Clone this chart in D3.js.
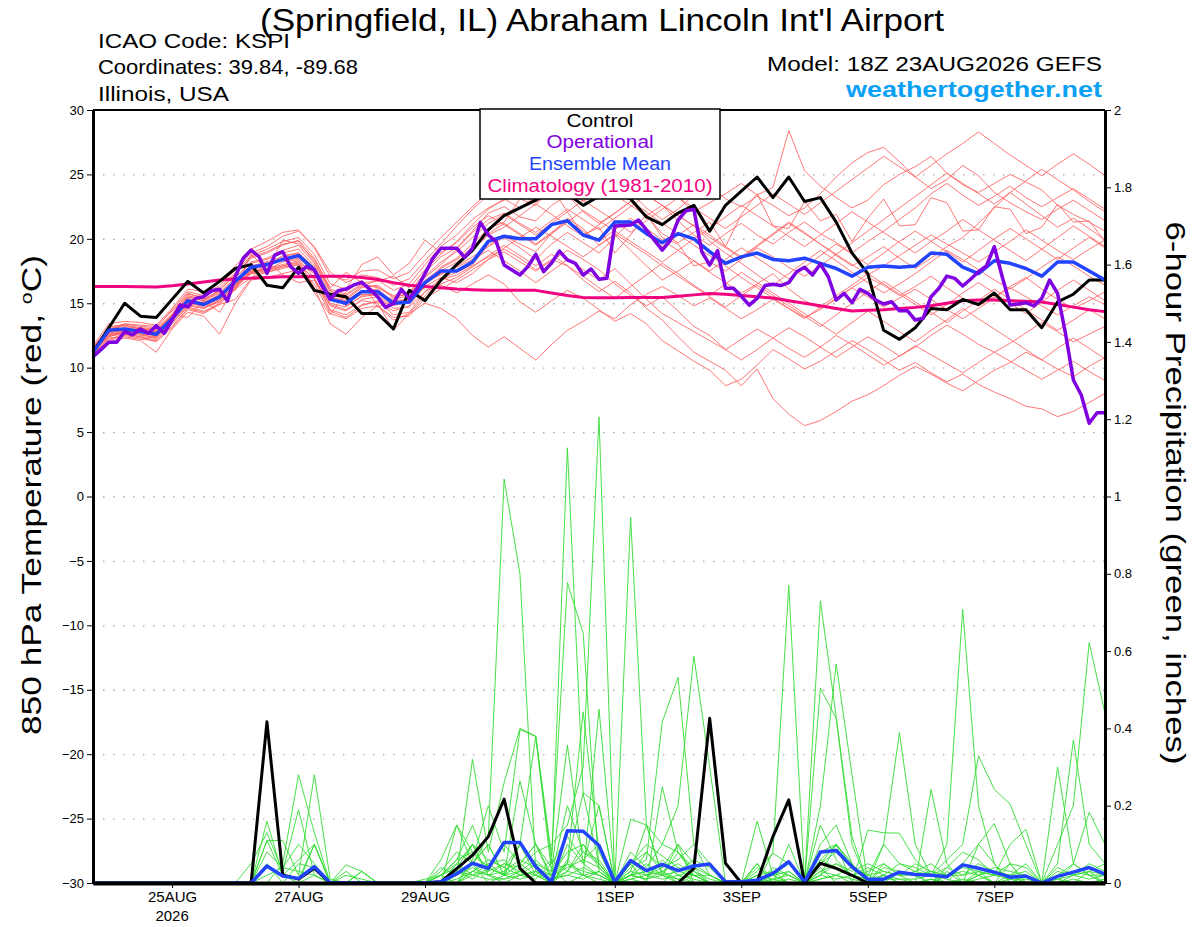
<!DOCTYPE html>
<html>
<head>
<meta charset="utf-8">
<script src="https://cdn.jsdelivr.net/npm/d3@7"></script>
<style>
  body { margin: 0; background: #fff; }
  svg { display: block; font-family: "Liberation Sans", Arial, sans-serif; }
</style>
</head>
<body>
<svg id="drawing_region"></svg>
<script>
// forecast hours from the 18Z 23AUG2026 run
const stepHours = 6;
const opStepHours = 3;
const tickHours = [30, 78, 126, 198, 246, 294, 342];
const tickLabels = ["25AUG", "27AUG", "29AUG", "1SEP", "3SEP", "5SEP", "7SEP"];
const tempTicks = [30, 25, 20, 15, 10, 5, 0, -5, -10, -15, -20, -25, -30];
const gridTemps = [25, 20, 15, 10, 5, 0, -5, -10, -15, -20, -25];
const precipTicks = [0, 0.2, 0.4, 0.6, 0.8, 1, 1.2, 1.4, 1.6, 1.8, 2];
const precipTickLabels = ["0", "0.2", "0.4", "0.6", "0.8", "1", "1.2", "1.4", "1.6", "1.8", "2"];

// 850 hPa temperature, 6-hourly
const tempControl = [11.2, 13.1, 15.0, 14.0, 13.9, 15.3, 16.7, 15.8, 16.7, 17.7, 18.0, 16.4, 16.2,
  17.8, 16.0, 15.7, 15.5, 14.2, 14.2, 13.0, 16.0, 15.2, 16.8, 18.0, 19.1, 20.7,
  21.8, 22.4, 23.0, 23.8, 23.5, 22.6, 23.3, 23.6, 23.1, 21.7, 21.1, 22.0, 22.6,
  20.6, 22.6, 23.7, 24.8, 23.2, 24.8, 22.9, 23.2, 21.3, 18.9, 17.3, 12.9, 12.2,
  13.1, 14.6, 14.5, 15.3, 14.9, 15.8, 14.5, 14.5, 13.1, 15.1, 15.7, 16.8, 16.8];
const tempMean = [11.2, 12.9, 13.0, 12.8, 12.6, 13.8, 15.2, 14.9, 15.5, 16.7, 17.8, 18.0, 18.4,
  18.7, 17.6, 15.3, 15.0, 15.9, 15.9, 15.0, 15.1, 16.6, 17.5, 17.5, 18.2, 19.8,
  20.2, 20.0, 20.0, 21.1, 21.4, 20.3, 19.9, 21.3, 21.3, 20.4, 19.7, 20.4, 20.0,
  19.0, 18.1, 18.6, 18.9, 18.4, 18.3, 18.5, 18.1, 17.7, 17.1, 17.8, 17.9, 17.8,
  17.9, 18.9, 18.8, 17.8, 17.3, 18.3, 18.1, 17.7, 17.1, 18.2, 18.2, 17.5, 16.8];
const tempClimo = [16.3, 16.3, 16.3, 16.28, 16.26, 16.35, 16.5, 16.65, 16.8, 16.88, 16.95, 17.0, 17.05,
  17.06, 17.08, 17.1, 17.1, 17.0, 16.85, 16.6, 16.4, 16.3, 16.2, 16.1, 16.05, 16.0,
  16.0, 16.0, 16.0, 15.8, 15.6, 15.45, 15.43, 15.43, 15.44, 15.45, 15.45, 15.55, 15.65,
  15.75, 15.7, 15.6, 15.5, 15.4, 15.2, 15.0, 14.8, 14.6, 14.4, 14.45, 14.5, 14.6,
  14.68, 14.8, 15.0, 15.2, 15.25, 15.25, 15.2, 15.15, 15.1, 14.9, 14.7, 14.5, 14.35];
// operational run, 3-hourly
const tempOper = [10.85, 11.4, 11.97, 11.97, 12.8, 12.54, 13.0, 12.67, 13.26, 12.67, 13.7, 14.86, 14.73,
  15.38, 15.51, 15.97, 16.08, 15.17, 17.06, 18.49, 19.13, 18.61, 17.32, 18.74, 19.0, 17.84,
  17.32, 17.84, 17.58, 16.29, 15.33, 15.97, 16.1, 16.42, 16.62, 16.1, 15.51, 14.68, 14.99,
  16.08, 15.38, 16.16, 17.32, 18.49, 19.27, 19.27, 19.27, 18.56, 19.27, 21.28, 20.3, 19.78,
  17.97, 17.58, 17.19, 17.84, 18.8, 17.45, 18.12, 19.05, 18.36, 18.1, 17.19, 17.66, 16.86,
  16.94, 21.0, 21.04, 21.07, 21.46, 20.69, 19.9, 19.13, 19.86, 21.46, 22.18, 22.29, 19.0,
  17.97, 19.08, 16.16, 16.16, 15.54, 14.86, 15.38, 16.37, 16.47, 16.37, 16.6, 17.45, 17.79,
  17.19, 18.05, 17.06, 15.25, 15.77, 15.04, 16.08, 15.77, 15.25, 14.94, 15.12, 14.42, 14.42,
  13.7, 13.83, 15.51, 16.16, 17.11, 16.93, 16.34, 16.86, 17.45, 17.89, 19.39, 17.06, 14.86,
  14.94, 15.04, 14.79, 15.38, 16.8, 15.77, 12.67, 9.04, 7.88, 5.68, 6.5, 6.5];

// ensemble members, temperature
const tm01 = [11.5, 12.4, 12.8, 13.1, 13.0, 14.2, 15.8, 15.3, 16.0, 17.2, 18.6, 19.0, 19.6,
  19.8, 18.2, 16.0, 15.4, 16.3, 16.8, 16.0, 16.5, 18.0, 19.4, 20.3, 21.5, 22.4,
  23.0, 23.6, 24.2, 24.8, 24.0, 23.5, 24.6, 25.3, 24.8, 23.9, 24.5, 23.2, 22.1,
  22.8, 23.5, 24.3, 23.4, 24.0, 28.4, 25.3, 24.1, 23.2, 22.4, 23.0, 24.2, 25.0,
  25.6, 26.4, 25.1, 24.2, 23.6, 24.3, 25.0, 24.4, 23.8, 22.6, 21.9, 21.3, 20.6];
const tm02 = [11.0, 12.1, 12.5, 12.3, 12.2, 13.4, 14.8, 14.6, 15.1, 16.2, 17.4, 17.7, 18.0,
  18.3, 16.2, 13.4, 12.6, 13.9, 14.8, 13.7, 14.2, 15.6, 16.8, 17.2, 17.9, 18.6,
  19.2, 18.5, 17.6, 18.4, 17.9, 16.8, 15.9, 16.7, 15.8, 14.6, 13.7, 12.4, 11.2,
  10.5, 9.8, 8.6, 9.9, 7.6, 6.4, 5.5, 5.9, 6.6, 7.4, 7.9, 8.6, 9.4,
  10.1, 9.5, 8.8, 8.2, 9.0, 9.8, 10.4, 11.2, 10.6, 9.9, 9.3, 10.1, 10.8];
const tm03 = [11.3, 12.6, 12.7, 12.9, 12.4, 13.6, 15.0, 15.1, 15.6, 16.5, 17.3, 17.9, 18.7,
  18.9, 17.8, 15.6, 14.8, 15.5, 15.7, 15.3, 15.6, 16.2, 16.4, 15.8, 16.5, 17.2,
  16.5, 15.1, 14.3, 15.2, 16.0, 15.4, 14.5, 13.6, 14.2, 13.4, 12.1, 11.3, 10.5,
  9.8, 8.6, 9.1, 10.2, 11.4, 10.7, 9.9, 10.5, 11.3, 12.1, 11.4, 10.6, 9.8,
  10.4, 9.6, 8.9, 9.5, 8.7, 8.1, 7.6, 7.0, 6.8, 6.2, 6.6, 7.3, 8.0];
const tm04 = [11.6, 12.9, 13.4, 13.2, 13.1, 14.5, 15.9, 15.6, 16.4, 17.6, 18.9, 19.4, 20.2,
  20.6, 19.4, 17.4, 16.6, 17.2, 17.0, 16.4, 16.9, 18.3, 19.6, 21.0, 22.3, 23.4,
  24.1, 24.6, 25.3, 24.7, 23.8, 22.9, 23.7, 24.3, 23.6, 22.4, 21.5, 22.3, 23.4,
  24.2, 23.1, 22.5, 23.3, 22.6, 21.8, 22.4, 23.5, 24.8, 25.9, 26.7, 27.1, 26.0,
  24.8, 23.9, 24.6, 25.7, 24.9, 23.6, 22.8, 22.1, 21.5, 22.3, 23.0, 22.2, 21.4];
const tm05 = [10.9, 12.2, 12.6, 12.4, 12.0, 13.1, 14.5, 14.2, 14.9, 15.3, 16.9, 18.3, 17.2,
  16.6, 16.8, 14.4, 13.9, 14.8, 15.2, 14.1, 14.3, 15.9, 16.9, 17.4, 18.0, 19.5,
  20.2, 19.6, 19.0, 20.4, 21.6, 20.8, 19.5, 20.3, 19.1, 17.9, 16.8, 17.5, 18.3,
  17.4, 16.6, 15.8, 16.5, 17.3, 16.1, 15.2, 14.6, 15.3, 16.2, 17.0, 16.4, 15.6,
  16.3, 17.1, 16.2, 15.4, 14.8, 15.5, 16.3, 17.0, 16.1, 15.3, 14.6, 15.2, 15.9];
const tm06 = [11.4, 13.2, 13.3, 13.0, 12.9, 14.0, 15.4, 15.0, 15.7, 17.0, 18.2, 18.5, 19.1,
  19.5, 18.1, 15.9, 15.6, 16.4, 16.3, 15.4, 15.8, 17.4, 18.6, 19.3, 20.6, 22.0,
  22.5, 21.7, 21.4, 22.6, 23.4, 22.1, 21.2, 22.0, 22.9, 21.8, 20.4, 19.7, 20.5,
  21.3, 19.4, 21.9, 23.5, 21.0, 20.8, 22.9, 21.4, 21.9, 19.8, 21.6, 23.1, 21.0,
  21.1, 23.2, 22.8, 20.6, 20.7, 22.5, 22.3, 20.4, 20.9, 22.7, 21.3, 21.4, 19.8];
const tm07 = [11.1, 12.5, 12.9, 12.6, 12.3, 13.5, 14.7, 14.4, 14.9, 16.1, 17.0, 17.4, 17.8,
  18.0, 16.9, 14.9, 14.5, 15.2, 15.0, 12.9, 14.2, 15.0, 14.6, 13.8, 12.5, 11.6,
  12.4, 11.5, 10.6, 11.8, 12.9, 13.6, 14.4, 13.8, 14.9, 15.7, 16.3, 15.6, 14.8,
  15.4, 14.6, 13.8, 14.5, 15.3, 14.6, 13.9, 14.5, 15.4, 16.2, 15.5, 14.7, 15.4,
  16.1, 15.3, 14.5, 13.8, 14.6, 15.4, 16.2, 15.5, 14.8, 14.1, 14.8, 15.5, 14.9];
const tm08 = [11.7, 13.4, 13.6, 13.5, 13.3, 14.6, 16.1, 15.9, 16.6, 17.9, 19.2, 19.8, 20.5,
  20.7, 19.3, 17.1, 16.8, 17.5, 17.6, 16.9, 17.4, 18.8, 20.1, 21.3, 22.5, 23.6,
  24.3, 23.5, 22.8, 23.6, 24.5, 25.1, 24.2, 23.4, 22.6, 21.8, 22.6, 21.4, 20.3,
  19.5, 20.4, 21.2, 20.3, 19.6, 20.5, 21.3, 20.4, 19.7, 18.9, 19.8, 20.6, 21.5,
  22.4, 23.5, 24.3, 23.4, 22.6, 23.3, 24.1, 23.2, 22.5, 23.2, 23.9, 23.1, 22.3];
const tm09 = [11.2, 12.8, 13.1, 12.9, 12.7, 13.9, 15.3, 14.9, 15.4, 16.6, 17.6, 18.1, 18.3,
  18.5, 17.4, 15.0, 14.7, 15.6, 15.8, 14.9, 15.0, 16.3, 17.0, 16.6, 17.3, 18.4,
  19.0, 18.2, 17.5, 18.3, 19.1, 18.4, 17.6, 16.5, 15.6, 14.8, 15.5, 14.4, 13.2,
  12.5, 11.4, 10.6, 11.4, 12.3, 13.1, 12.4, 11.6, 10.8, 11.6, 12.4, 11.7, 10.9,
  11.6, 12.5, 13.3, 12.6, 11.8, 11.2, 11.9, 12.7, 13.5, 12.8, 12.0, 12.6, 13.2];
const tm10 = [11.0, 12.3, 12.4, 12.2, 12.1, 13.2, 14.6, 14.3, 15.0, 16.3, 17.5, 17.6, 18.2,
  18.4, 17.0, 14.5, 14.1, 14.9, 15.1, 14.4, 14.8, 16.4, 17.8, 18.5, 19.6, 20.8,
  21.3, 23.1, 22.6, 24.0, 22.1, 20.3, 20.9, 18.9, 20.3, 21.9, 20.1, 19.6, 17.9,
  18.2, 17.5, 18.4, 19.3, 18.6, 17.8, 17.1, 17.9, 18.8, 18.0, 17.2, 17.9, 18.7,
  19.5, 20.3, 19.6, 18.9, 18.2, 19.0, 19.8, 20.7, 19.9, 19.1, 18.4, 19.2, 19.9];
const tm11 = [11.4, 13.0, 13.3, 13.1, 12.8, 14.1, 15.5, 15.2, 15.9, 16.0, 18.8, 17.6, 19.9,
  19.6, 18.4, 16.1, 15.7, 16.5, 16.2, 15.6, 15.9, 17.0, 18.0, 19.2, 20.5, 21.5,
  22.0, 21.2, 20.5, 21.4, 22.3, 21.5, 20.7, 21.6, 22.5, 23.4, 22.6, 21.8, 21.0,
  19.8, 18.9, 18.1, 17.2, 16.4, 17.3, 18.2, 19.1, 18.3, 17.4, 16.6, 15.8, 16.5,
  17.3, 18.2, 19.1, 18.4, 17.6, 16.8, 16.1, 16.9, 17.8, 18.6, 17.9, 17.1, 16.4];
const tm12 = [11.3, 12.7, 12.9, 12.7, 12.5, 13.7, 15.1, 14.7, 15.2, 16.4, 17.5, 17.6, 17.9,
  18.1, 15.8, 14.1, 15.9, 16.8, 14.7, 15.2, 15.3, 16.7, 17.2, 17.9, 18.6, 19.4,
  20.1, 19.3, 18.4, 19.6, 20.5, 19.7, 18.9, 20.1, 21.4, 20.5, 19.4, 20.3, 21.1,
  20.3, 19.4, 18.6, 19.5, 20.4, 21.3, 20.5, 19.6, 18.7, 17.9, 18.6, 19.4, 18.5,
  17.7, 18.5, 19.4, 20.1, 21.2, 22.4, 23.6, 22.7, 21.8, 20.9, 21.6, 20.8, 19.9];
const tm13 = [11.5, 12.6, 12.8, 12.6, 12.5, 13.8, 15.0, 14.8, 15.3, 16.4, 17.4, 17.5, 17.9,
  18.2, 17.3, 15.4, 15.1, 15.7, 15.6, 14.8, 15.2, 16.5, 17.3, 17.8, 18.4, 19.1,
  18.3, 17.5, 16.6, 17.5, 18.4, 17.6, 16.8, 17.7, 16.5, 15.3, 14.2, 13.5, 12.8,
  12.1, 11.4, 12.2, 13.0, 12.3, 11.5, 10.8, 11.6, 12.5, 11.8, 11.0, 10.2, 10.9,
  11.7, 11.0, 10.3, 9.6, 10.4, 11.2, 10.5, 9.8, 9.1, 9.8, 10.5, 9.7, 9.0];
const tm14 = [11.6, 13.1, 13.4, 13.3, 13.2, 14.4, 15.7, 15.5, 16.2, 17.4, 18.7, 19.2, 19.8,
  20.1, 18.8, 16.5, 16.1, 18.0, 18.6, 17.2, 18.1, 19.9, 18.9, 19.7, 20.9, 21.8,
  21.1, 20.3, 19.5, 20.4, 21.3, 22.2, 21.4, 20.6, 19.8, 19.0, 18.2, 19.1, 20.0,
  20.8, 21.7, 22.6, 21.8, 21.0, 20.2, 19.4, 20.3, 21.2, 22.1, 21.3, 20.5, 19.7,
  18.9, 19.8, 20.6, 21.5, 20.7, 19.9, 19.1, 18.3, 19.2, 20.1, 21.0, 20.2, 19.4];
const tm15 = [10.8, 12.0, 12.3, 12.1, 11.2, 13.0, 14.3, 14.0, 12.6, 15.0, 16.8, 17.0, 17.3,
  17.6, 16.5, 14.2, 13.8, 14.6, 14.8, 13.9, 14.0, 15.4, 16.1, 16.8, 17.6, 18.4,
  19.3, 20.1, 20.9, 20.2, 19.4, 18.6, 19.5, 20.4, 19.6, 18.8, 17.9, 17.1, 16.3,
  15.5, 14.7, 15.6, 16.4, 15.6, 14.8, 14.0, 13.2, 14.1, 15.0, 15.9, 16.7, 15.9,
  15.1, 14.3, 13.5, 14.4, 15.2, 16.1, 15.3, 14.5, 13.7, 12.9, 13.7, 14.5, 13.8];
const tm16 = [11.2, 12.7, 13.0, 12.9, 12.8, 14.0, 15.5, 15.2, 15.8, 17.0, 18.1, 18.4, 18.9,
  19.2, 17.9, 15.7, 15.3, 16.2, 16.4, 15.5, 15.7, 17.1, 18.2, 19.0, 20.1, 21.2,
  21.9, 21.1, 20.3, 21.2, 22.1, 23.0, 22.2, 21.4, 20.5, 21.4, 22.3, 23.2, 22.4,
  21.6, 20.8, 21.7, 22.6, 23.5, 22.7, 21.9, 22.8, 23.7, 24.6, 25.5, 26.4, 25.6,
  24.8, 25.7, 26.6, 27.4, 28.3, 27.4, 26.5, 25.7, 24.9, 25.8, 26.6, 25.8, 24.9];
const tm17 = [11.0, 12.4, 12.7, 12.5, 12.4, 13.6, 14.9, 14.6, 15.2, 16.4, 17.6, 17.9, 18.4,
  18.8, 17.6, 15.4, 15.1, 15.9, 16.1, 15.1, 15.3, 16.6, 17.5, 18.2, 19.1, 20.3,
  20.9, 21.8, 22.7, 21.9, 21.0, 20.2, 21.1, 22.0, 22.9, 22.1, 21.2, 20.4, 19.5,
  18.7, 17.9, 17.0, 16.2, 15.4, 14.6, 13.8, 14.7, 15.6, 16.4, 17.3, 16.5, 15.7,
  14.9, 14.1, 14.9, 15.8, 16.6, 15.8, 15.0, 14.2, 15.1, 16.0, 16.8, 16.0, 15.2];
const tm18 = [11.5, 13.0, 13.2, 13.0, 12.9, 14.1, 15.6, 15.3, 16.0, 17.3, 18.5, 18.9, 19.5,
  19.9, 18.5, 16.2, 17.4, 16.6, 16.7, 17.1, 16.2, 17.6, 18.8, 19.8, 21.1, 22.3,
  23.1, 22.4, 23.3, 24.2, 25.1, 24.3, 23.5, 25.0, 24.2, 23.4, 22.6, 21.8, 21.0,
  20.1, 19.3, 18.5, 19.4, 20.3, 21.2, 20.4, 19.6, 18.8, 19.7, 20.6, 21.5, 22.4,
  23.3, 24.2, 25.1, 24.3, 23.5, 22.7, 23.6, 24.5, 25.4, 24.6, 23.8, 22.9, 22.1];
const tm19 = [11.3, 12.5, 12.6, 12.4, 12.3, 14.1, 13.9, 15.2, 14.3, 16.2, 17.3, 17.4, 17.7,
  18.0, 16.9, 14.8, 14.4, 15.3, 15.5, 14.6, 14.7, 15.9, 16.5, 17.0, 17.8, 18.7,
  19.5, 18.7, 17.9, 18.8, 17.9, 17.1, 16.2, 15.4, 16.3, 17.2, 18.1, 17.3, 16.4,
  15.6, 16.5, 17.4, 16.6, 15.8, 15.0, 14.2, 13.4, 12.6, 13.5, 14.4, 13.6, 12.8,
  12.0, 12.9, 13.7, 14.6, 13.8, 13.0, 12.2, 11.4, 10.6, 11.5, 12.3, 11.5, 10.7];
const tm20 = [11.4, 12.8, 13.0, 12.8, 12.6, 13.8, 15.2, 15.0, 15.6, 16.8, 17.9, 18.2, 18.6,
  18.9, 17.7, 15.5, 15.2, 16.0, 16.0, 15.1, 15.2, 16.8, 17.7, 18.4, 19.3, 20.4,
  21.2, 20.4, 19.6, 20.5, 21.4, 20.6, 19.8, 20.7, 21.6, 20.8, 19.9, 19.1, 18.3,
  17.5, 18.4, 19.3, 18.5, 17.7, 16.9, 17.8, 18.7, 19.6, 18.8, 18.0, 18.9, 19.8,
  20.6, 19.8, 19.0, 18.2, 19.1, 20.0, 20.8, 20.0, 19.2, 18.4, 19.3, 20.1, 19.3];

// 6-hour precipitation (inches)
const precipControl = [0, 0, 0, 0, 0, 0, 0, 0, 0, 0, 0, 0.417, 0.021,
  0.01, 0.038, 0, 0, 0, 0, 0, 0, 0, 0.003, 0.037, 0.072, 0.12,
  0.217, 0.038, 0, 0, 0, 0, 0, 0, 0, 0, 0, 0, 0.038,
  0.426, 0.051, 0, 0.003, 0.12, 0.215, 0, 0.051, 0.038, 0.02, 0, 0, 0,
  0, 0, 0, 0, 0, 0, 0, 0, 0, 0, 0, 0, 0];
const precipMean = [0, 0, 0, 0, 0, 0, 0, 0, 0, 0, 0, 0.044, 0.018,
  0.012, 0.042, 0.001, 0, 0, 0, 0, 0, 0, 0.003, 0.024, 0.051, 0.038,
  0.105, 0.105, 0.042, 0.003, 0.135, 0.134, 0.097, 0.003, 0.058, 0.032, 0.048, 0.032, 0.044,
  0.049, 0.003, 0.003, 0.007, 0.025, 0.055, 0.003, 0.08, 0.084, 0.042, 0.01, 0.01, 0.028,
  0.022, 0.02, 0.016, 0.047, 0.038, 0.028, 0.015, 0.018, 0, 0.017, 0.028, 0.04, 0.023];

const pm01 = [0, 0, 0, 0, 0, 0, 0, 0, 0, 0, 0, 0.16, 0.02,
  0, 0.1, 0, 0, 0, 0, 0, 0, 0, 0.03, 0.08, 0.05, 0.12,
  1.045, 0.8, 0.03, 0, 0.06, 0.02, 0, 0, 0.01, 0, 0, 0.04, 0,
  0, 0, 0, 0.16, 0.02, 0, 0, 0.04, 0, 0, 0, 0, 0,
  0, 0, 0, 0, 0.02, 0, 0, 0, 0, 0, 0, 0, 0];
const pm02 = [0, 0, 0, 0, 0, 0, 0, 0, 0, 0, 0.05, 0.13, 0.03,
  0.19, 0.02, 0, 0, 0.03, 0, 0, 0, 0, 0.02, 0.06, 0.15, 0.04,
  0.02, 0.1, 0.38, 0.05, 1.126, 0.23, 0.05, 0, 0.02, 0.08, 0.03, 0, 0,
  0, 0, 0, 0, 0.08, 0.77, 0, 0.05, 0.1, 0, 0, 0.02, 0,
  0, 0.01, 0, 0, 0.03, 0, 0, 0, 0, 0, 0.05, 0.02, 0];
const pm03 = [0, 0, 0, 0, 0, 0, 0, 0, 0, 0, 0, 0.11, 0.11,
  0.02, 0.28, 0.01, 0, 0.03, 0, 0, 0, 0, 0, 0.02, 0.32, 0.08,
  0.26, 0.4, 0.38, 0.07, 0.777, 0.646, 0.03, 0, 0.02, 0.01, 0.06, 0.02, 0,
  0, 0, 0, 0, 0, 0, 0, 0.73, 0.43, 0.12, 0, 0, 0,
  0, 0, 0, 0, 0, 0, 0, 0, 0, 0, 0, 0, 0];
const pm04 = [0, 0, 0, 0, 0, 0, 0, 0, 0, 0, 0, 0.08, 0.04,
  0.1, 0.05, 0, 0.047, 0.03, 0, 0, 0, 0, 0.02, 0.04, 0.1, 0.02,
  0.05, 0.04, 0.08, 0.1, 0.15, 0.3, 1.206, 0, 0.06, 0.02, 0.04, 0.1, 0,
  0, 0, 0, 0, 0.03, 0, 0, 0.2, 0.567, 0.28, 0, 0.05, 0.02,
  0, 0, 0, 0, 0, 0, 0, 0, 0, 0, 0, 0, 0];
const pm05 = [0, 0, 0, 0, 0, 0, 0, 0, 0, 0, 0, 0, 0.05,
  0.28, 0.13, 0, 0, 0, 0, 0, 0, 0, 0, 0.15, 0.05, 0.1,
  0.02, 0.264, 0.1, 0.04, 0, 0.02, 0.45, 0, 0.946, 0.15, 0.02, 0.08, 0.03,
  0, 0, 0, 0.05, 0, 0, 0, 0, 0, 0, 0, 0.1, 0.389,
  0.1, 0.02, 0, 0, 0, 0, 0, 0, 0, 0, 0, 0, 0];
const pm06 = [0, 0, 0, 0, 0, 0, 0, 0, 0, 0, 0, 0, 0,
  0, 0.02, 0, 0, 0, 0, 0, 0, 0, 0, 0, 0.06, 0.2,
  0.08, 0.397, 0.379, 0.03, 0.357, 0.05, 0.02, 0, 0.03, 0.15, 0.02, 0, 0.04,
  0, 0, 0, 0.05, 0, 0, 0, 0, 0, 0, 0.137, 0.13, 0.129,
  0.06, 0.02, 0.1, 0.708, 0.2, 0.05, 0, 0, 0, 0, 0, 0, 0];
const pm07 = [0, 0, 0, 0, 0, 0, 0, 0, 0, 0, 0, 0, 0,
  0, 0, 0, 0, 0, 0, 0, 0, 0, 0, 0.05, 0.1, 0.02,
  0, 0.02, 0.05, 0, 0.1, 0.05, 0.2, 0, 0.05, 0, 0.249, 0.08, 0.02,
  0, 0, 0, 0.02, 0, 0.1, 0, 0.02, 0.1, 0.05, 0, 0, 0,
  0, 0, 0.02, 0.05, 0.1, 0.05, 0, 0.02, 0, 0.1, 0.2, 0.622, 0.439];
const pm08 = [0, 0, 0, 0, 0, 0, 0, 0, 0, 0, 0, 0, 0,
  0, 0, 0, 0, 0, 0, 0, 0, 0, 0.02, 0.06, 0.08, 0.03,
  0.1, 0.05, 0.02, 0, 0.05, 0.443, 0.08, 0, 0.04, 0.06, 0.417, 0.532, 0.1,
  0.02, 0, 0, 0.05, 0, 0.03, 0, 0.504, 0.426, 0.1, 0, 0.02, 0,
  0, 0, 0.03, 0, 0.02, 0, 0.05, 0, 0, 0, 0, 0.03, 0];
const pm09 = [0, 0, 0, 0, 0, 0, 0, 0, 0, 0, 0, 0.04, 0.02,
  0.06, 0.1, 0, 0.02, 0.01, 0, 0, 0, 0, 0, 0.02, 0.05, 0.1,
  0.02, 0.03, 0, 0, 0.05, 0.234, 0.2, 0, 0.165, 0.15, 0.1, 0.2, 0.587,
  0.3, 0, 0, 0, 0, 0, 0, 0.1, 0.15, 0.05, 0, 0, 0,
  0, 0.242, 0.05, 0, 0.1, 0.154, 0.05, 0, 0, 0, 0, 0, 0];
const pm10 = [0, 0, 0, 0, 0, 0, 0, 0, 0, 0, 0, 0, 0,
  0, 0, 0, 0, 0, 0, 0, 0, 0, 0, 0, 0.05, 0,
  0.02, 0.05, 0.1, 0.01, 0.03, 0.08, 0.06, 0, 0.05, 0.1, 0.07, 0.04, 0.02,
  0, 0, 0, 0, 0, 0, 0, 0.05, 0.08, 0.04, 0.02, 0.1, 0.05,
  0.04, 0.02, 0.06, 0.1, 0.329, 0.242, 0.204, 0.1, 0, 0.02, 0.05, 0.02, 0];
const pm11 = [0, 0, 0, 0, 0, 0, 0, 0, 0, 0, 0, 0, 0,
  0, 0, 0, 0, 0, 0, 0, 0, 0, 0, 0, 0.03, 0.06,
  0.04, 0.02, 0.01, 0.05, 0.12, 0.06, 0.04, 0, 0.02, 0.03, 0.05, 0.02, 0.01,
  0, 0, 0, 0, 0.04, 0.02, 0, 0.06, 0.1, 0.04, 0.02, 0, 0.03,
  0.02, 0, 0.04, 0.08, 0.06, 0.02, 0.1, 0.139, 0, 0.3, 0.05, 0.183, 0.1];
const pm12 = [0, 0, 0, 0, 0, 0, 0, 0, 0, 0, 0, 0, 0,
  0, 0, 0, 0, 0, 0, 0, 0, 0, 0, 0.02, 0.04, 0.02,
  0.03, 0.06, 0.04, 0.02, 0.08, 0.1, 0.05, 0, 0.06, 0.02, 0.03, 0.05, 0.02,
  0, 0, 0, 0.03, 0.077, 0.05, 0, 0.02, 0.05, 0.03, 0.05, 0.03, 0.02,
  0.05, 0.03, 0.02, 0.04, 0.03, 0.02, 0.05, 0.04, 0, 0.05, 0.37, 0.1, 0.05];
const pm13 = [0, 0, 0, 0, 0, 0, 0, 0, 0, 0, 0, 0, 0,
  0, 0, 0, 0.03, 0, 0, 0, 0, 0.01, 0.02, 0, 0.03, 0.05,
  0.02, 0.1, 0.05, 0.03, 0.05, 0.02, 0.03, 0, 0.02, 0.05, 0.02, 0.03, 0.06,
  0.04, 0, 0, 0.02, 0.03, 0.02, 0, 0.15, 0.06, 0.02, 0.03, 0.05, 0.02,
  0.03, 0.05, 0.02, 0.03, 0.02, 0.04, 0.03, 0.02, 0, 0.03, 0.02, 0.05, 0.03];
const pm14 = [0, 0, 0, 0, 0, 0, 0, 0, 0, 0, 0, 0.05, 0,
  0.05, 0.04, 0, 0, 0, 0, 0, 0, 0, 0, 0.03, 0.02, 0.05,
  0.06, 0.02, 0.03, 0.02, 0.04, 0.06, 0.1, 0, 0.03, 0.02, 0.05, 0.03, 0.02,
  0.02, 0, 0, 0.04, 0.02, 0.03, 0, 0.03, 0.02, 0.04, 0.02, 0.03, 0.02,
  0.02, 0.03, 0.02, 0.02, 0.03, 0.02, 0.02, 0.03, 0, 0.02, 0.03, 0.02, 0.02];
const pm15 = [0, 0, 0, 0, 0, 0, 0, 0, 0, 0, 0, 0, 0,
  0, 0, 0, 0, 0, 0, 0, 0, 0, 0.06, 0.15, 0.08, 0.04,
  0.02, 0.05, 0.1, 0.02, 0.2, 0.08, 0.05, 0, 0.05, 0.08, 0.04, 0.06, 0.1,
  0.05, 0, 0, 0, 0.02, 0.05, 0, 0.08, 0.1, 0.05, 0, 0.04, 0.03,
  0.02, 0, 0, 0.05, 0.02, 0.03, 0.02, 0, 0, 0, 0.02, 0.03, 0.02];
const pm16 = [0, 0, 0, 0, 0, 0, 0, 0, 0, 0, 0, 0.02, 0.04,
  0.03, 0.02, 0, 0, 0, 0, 0, 0, 0, 0.04, 0.02, 0.1, 0.06,
  0.04, 0.1, 0.02, 0.06, 0.03, 0.1, 0.04, 0, 0.08, 0.04, 0.1, 0.08, 0.04,
  0.02, 0, 0, 0.01, 0.02, 0, 0, 0.06, 0.04, 0.02, 0.04, 0.02, 0.05,
  0.03, 0.02, 0.04, 0.02, 0.05, 0.03, 0.02, 0.05, 0, 0.04, 0.02, 0.03, 0.05];
const pm17 = [0, 0, 0, 0, 0, 0, 0, 0, 0, 0, 0, 0, 0,
  0, 0, 0, 0, 0, 0, 0, 0, 0, 0.02, 0.05, 0.02, 0.03,
  0.05, 0.03, 0.06, 0.02, 0.05, 0.03, 0.02, 0, 0.02, 0.03, 0.02, 0.1, 0.05,
  0.02, 0, 0, 0, 0.01, 0, 0, 0.03, 0.05, 0.02, 0.01, 0, 0,
  0, 0.01, 0, 0, 0, 0, 0.02, 0, 0, 0.01, 0, 0, 0.01];
const pm18 = [0, 0, 0, 0, 0, 0, 0, 0, 0, 0, 0, 0, 0,
  0, 0, 0, 0, 0, 0, 0, 0, 0, 0, 0.01, 0.03, 0.02,
  0.01, 0.02, 0.03, 0.01, 0.02, 0.01, 0.03, 0, 0.01, 0.02, 0.01, 0.02, 0.03,
  0.01, 0, 0, 0.02, 0.01, 0.02, 0, 0.02, 0.01, 0.02, 0.01, 0.02, 0.01,
  0.01, 0.02, 0.01, 0, 0.01, 0.02, 0.01, 0, 0, 0.01, 0.02, 0.01, 0.02];
const pm19 = [0, 0, 0, 0, 0, 0, 0, 0, 0, 0, 0, 0, 0,
  0, 0, 0, 0, 0, 0, 0, 0, 0, 0, 0.03, 0.01, 0.04,
  0.02, 0.01, 0.02, 0, 0.03, 0.02, 0.01, 0, 0.02, 0.01, 0.03, 0.01, 0.02,
  0, 0, 0, 0.01, 0, 0.01, 0, 0.01, 0.02, 0.01, 0, 0.01, 0.01,
  0, 0.01, 0, 0.01, 0, 0, 0.01, 0.01, 0, 0, 0.01, 0, 0.01];
const pm20 = [0, 0, 0, 0, 0, 0, 0, 0, 0, 0, 0, 0.11, 0.02,
  0.01, 0.1, 0, 0, 0, 0, 0, 0, 0, 0, 0, 0.02, 0.01,
  0.01, 0.03, 0.02, 0.01, 0.02, 0.04, 0.02, 0, 0.02, 0.01, 0.02, 0.01, 0,
  0, 0, 0, 0, 0, 0, 0, 0.01, 0.02, 0, 0, 0, 0,
  0, 0, 0, 0, 0, 0, 0, 0, 0, 0, 0, 0, 0];

const tempMembers = [tm01, tm02, tm03, tm04, tm05, tm06, tm07, tm08, tm09, tm10,
  tm11, tm12, tm13, tm14, tm15, tm16, tm17, tm18, tm19, tm20];
const precipMembers = [pm01, pm02, pm03, pm04, pm05, pm06, pm07, pm08, pm09, pm10,
  pm11, pm12, pm13, pm14, pm15, pm16, pm17, pm18, pm19, pm20];

class Meteogram {

  constructor( config ) {
    this.config = {
      parent: config.parent,
      width: config.width || 1200,
      height: config.height || 927,
      margin: config.margin || {top:110, right:95, bottom:44, left:93}
    };
    this.init();
  }

  init() {
    let self = this;

    self.svg = d3.select( self.config.parent )
      .attr('width', self.config.width)
      .attr('height', self.config.height);

    self.inner_width = self.config.width - self.config.margin.left - self.config.margin.right;
    self.inner_height = self.config.height - self.config.margin.top - self.config.margin.bottom;
    self.left = self.config.margin.left;
    self.right = self.left + self.inner_width;
    self.top = self.config.margin.top;
    self.bottom = self.top + self.inner_height;

    self.xscale = d3.scaleLinear()
      .domain( [0, 384] )
      .range( [self.left, self.right] );

    self.tscale = d3.scaleLinear()
      .domain( [-30, 30] )
      .range( [self.bottom, self.top] );

    self.pscale = d3.scaleLinear()
      .domain( [0, 2] )
      .range( [self.bottom, self.top] );
  }

  render() {
    let self = this;

    // dotted grid on the temperature ticks
    self.svg.append('g')
      .attr('transform', `translate(${self.left}, 0)`)
      .call( d3.axisLeft( self.tscale ).tickValues( gridTemps ).tickSize( -self.inner_width ).tickFormat('') )
      .call( g => g.select('.domain').remove() )
      .selectAll('line')
      .attr('stroke', '#aaa')
      .attr('stroke-width', 1.3)
      .attr('stroke-dasharray', '1.5,8.5');

    const tline = step => d3.line()
      .x( (d, i) => self.xscale( i * step ) )
      .y( d => self.tscale( d ) );
    const pline = d3.line()
      .x( (d, i) => self.xscale( i * stepHours ) )
      .y( d => self.pscale( d ) );

    self.svg.append('g').selectAll('path')
      .data( precipMembers )
      .join('path')
      .attr('d', pline)
      .attr('fill', 'none')
      .attr('stroke', '#33dd33')
      .attr('stroke-width', 0.9);

    self.svg.append('g').selectAll('path')
      .data( tempMembers )
      .join('path')
      .attr('d', tline( stepHours ))
      .attr('fill', 'none')
      .attr('stroke', '#ff5e5e')
      .attr('stroke-width', 0.85);

    const heavy = [
      {data: tempClimo, line: tline( stepHours ), color: '#f0047f', width: 3},
      {data: precipControl, line: pline, color: '#000', width: 3},
      {data: precipMean, line: pline, color: '#2244ff', width: 3.5},
      {data: tempControl, line: tline( stepHours ), color: '#000', width: 3},
      {data: tempMean, line: tline( stepHours ), color: '#2244ff', width: 3.5},
      {data: tempOper, line: tline( opStepHours ), color: '#7f00e0', width: 3.5}
    ];
    heavy.forEach( h => {
      self.svg.append('path')
        .attr('d', h.line( h.data ))
        .attr('fill', 'none')
        .attr('stroke', h.color)
        .attr('stroke-width', h.width)
        .attr('stroke-linejoin', 'round');
    });

    // axes
    self.yaxis_group = self.svg.append('g')
      .attr('transform', `translate(${self.left}, 0)`)
      .call( d3.axisLeft( self.tscale ).tickValues( tempTicks ).tickSize(6).tickSizeOuter(0) );
    self.yaxis_group.select('.domain').attr('stroke-width', 3);

    self.y2axis_group = self.svg.append('g')
      .attr('transform', `translate(${self.right}, 0)`)
      .call( d3.axisRight( self.pscale ).tickValues( precipTicks ).tickSize(6).tickSizeOuter(0)
        .tickFormat( (d, i) => precipTickLabels[i] ) );
    self.y2axis_group.select('.domain').attr('stroke-width', 3);

    self.xaxis_group = self.svg.append('g')
      .attr('transform', `translate(0, ${self.bottom})`)
      .call( d3.axisBottom( self.xscale ).tickValues( tickHours ).tickSize(5).tickSizeOuter(0)
        .tickFormat( (d, i) => tickLabels[i] ) );
    self.xaxis_group.select('.domain').attr('stroke-width', 4);

    [self.yaxis_group, self.y2axis_group].forEach( g => {
      g.selectAll('text').attr('font-size', '13px').attr('fill', '#000')
        .attr('font-family', '"Liberation Sans", Arial, sans-serif');
    });
    self.xaxis_group.selectAll('text').attr('font-size', '15px').attr('fill', '#000')
      .attr('font-family', '"Liberation Sans", Arial, sans-serif');

    self.svg.append('line')
      .attr('x1', self.left).attr('x2', self.right)
      .attr('y1', self.top).attr('y2', self.top)
      .attr('stroke', '#000').attr('stroke-width', 2);

    self.svg.append('text')
      .attr('x', self.xscale( tickHours[0] ))
      .attr('y', 921)
      .attr('text-anchor', 'middle')
      .attr('font-size', '15px')
      .text('2026');

    // legend
    self.svg.append('rect')
      .attr('x', 480).attr('y', self.top - 1)
      .attr('width', 240).attr('height', 90)
      .attr('fill', '#fff')
      .attr('stroke', '#000')
      .attr('stroke-width', 1.5);

    const legend = [
      {label: 'Control', color: '#000', y: 127, len: 67},
      {label: 'Operational', color: '#7f00e0', y: 148, len: 107},
      {label: 'Ensemble Mean', color: '#2244ff', y: 169.5, len: 142},
      {label: 'Climatology (1981-2010)', color: '#f0047f', y: 191.5, len: 225}
    ];
    self.svg.append('g').selectAll('text')
      .data( legend )
      .join('text')
      .attr('x', 600)
      .attr('y', d => d.y)
      .attr('text-anchor', 'middle')
      .attr('font-size', '17.5px')
      .attr('fill', d => d.color)
      .attr('textLength', d => d.len)
      .attr('lengthAdjust', 'spacingAndGlyphs')
      .text( d => d.label );

    // headings
    const heads = [
      {text: "(Springfield, IL) Abraham Lincoln Int'l Airport", x: 602, y: 31, size: 32, len: 684, anchor: 'middle', color: '#000', weight: 'normal'},
      {text: 'ICAO Code: KSPI', x: 98, y: 48, size: 21, len: 192, anchor: 'start', color: '#000', weight: 'normal'},
      {text: 'Coordinates: 39.84, -89.68', x: 98, y: 74, size: 21, len: 260, anchor: 'start', color: '#000', weight: 'normal'},
      {text: 'Illinois, USA', x: 98, y: 101, size: 21, len: 131, anchor: 'start', color: '#000', weight: 'normal'},
      {text: 'Model: 18Z 23AUG2026 GEFS', x: 1102, y: 71, size: 20, len: 335, anchor: 'end', color: '#000', weight: 'normal'},
      {text: 'weathertogether.net', x: 1102, y: 97, size: 22, len: 256, anchor: 'end', color: '#0aa0f5', weight: 'bold'}
    ];
    self.svg.append('g').selectAll('text')
      .data( heads )
      .join('text')
      .attr('x', d => d.x)
      .attr('y', d => d.y)
      .attr('text-anchor', d => d.anchor)
      .attr('font-size', d => d.size + 'px')
      .attr('font-weight', d => d.weight)
      .attr('fill', d => d.color)
      .attr('textLength', d => d.len)
      .attr('lengthAdjust', 'spacingAndGlyphs')
      .text( d => d.text );

    // axis titles
    const ylabel = self.svg.append('text')
      .attr('transform', 'translate(41, 495) rotate(-90)')
      .attr('text-anchor', 'middle')
      .attr('font-size', '28px')
      .attr('textLength', 480)
      .attr('lengthAdjust', 'spacingAndGlyphs');
    ylabel.append('tspan').text('850 hPa Temperature (red, ');
    ylabel.append('tspan').attr('font-size', '17px').attr('baseline-shift', '55%').text('o');
    ylabel.append('tspan').text('C)');

    self.svg.append('text')
      .attr('transform', 'translate(1166, 493) rotate(90)')
      .attr('text-anchor', 'middle')
      .attr('font-size', '28px')
      .attr('textLength', 543)
      .attr('lengthAdjust', 'spacingAndGlyphs')
      .text('6-hour Precipitation (green, inches)');
  }
}

const chart = new Meteogram( {parent: '#drawing_region'} );
chart.render();
</script>
</body>
</html>
